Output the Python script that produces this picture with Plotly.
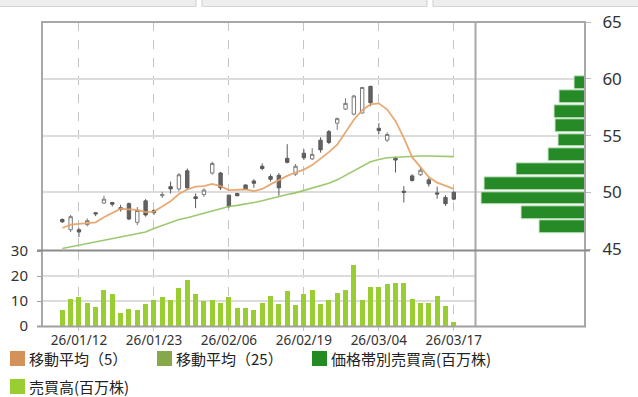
import plotly.graph_objects as go

# ---------------- data ----------------
dates = ["26/01/08", "26/01/09", "26/01/12", "26/01/13", "26/01/14", "26/01/15", "26/01/16",
         "26/01/19", "26/01/20", "26/01/21", "26/01/22", "26/01/23", "26/01/26", "26/01/27",
         "26/01/28", "26/01/29", "26/02/02", "26/02/03", "26/02/04", "26/02/05", "26/02/06",
         "26/02/09", "26/02/10", "26/02/11", "26/02/12", "26/02/13", "26/02/16", "26/02/17",
         "26/02/18", "26/02/19", "26/02/20", "26/02/23", "26/02/24", "26/02/25", "26/02/26",
         "26/02/27", "26/03/02", "26/03/03", "26/03/04", "26/03/05", "26/03/06", "26/03/09",
         "26/03/10", "26/03/11", "26/03/12", "26/03/13", "26/03/16", "26/03/17"]

open_ = [47.6, 46.7, 46.7, 47.15, 48.2, 49.05, 49.1, 48.65, 49.0, 47.35, 49.25, 48.4,
         49.7, 50.5, 50.3, 51.9, 49.6, 49.8, 51.7, 51.7, 49.75, 49.9, 50.65, 51.0,
         52.3, 51.4, 51.5, 53.0, 51.6, 53.45, 52.95, 54.6, 55.35, 56.1, 57.35, 56.9,
         57.0, 59.35, 55.65, 54.6, 53.0, 50.1, 51.45, 51.55, 51.1, 49.95, 49.55, 50.0]
high = [47.7, 48.0, 46.85, 47.7, 48.25, 49.7, 49.15, 48.9, 49.1, 48.7, 49.4, 48.5,
        50.05, 50.95, 51.7, 52.1, 49.9, 50.35, 52.7, 51.8, 49.8, 49.95, 50.7, 51.15,
        52.55, 51.6, 51.7, 54.25, 52.5, 53.8, 53.9, 54.85, 55.5, 56.6, 58.3, 58.6,
        59.3, 59.4, 56.1, 55.3, 53.15, 50.55, 51.6, 52.2, 51.3, 50.5, 49.75, 50.1]
low = [47.3, 46.5, 46.05, 47.0, 47.9, 49.0, 48.75, 48.3, 47.55, 47.1, 47.85, 48.0,
       49.5, 49.9, 50.1, 50.2, 48.6, 49.6, 51.55, 50.2, 48.6, 49.65, 50.2, 50.4,
       51.95, 50.95, 49.7, 52.55, 51.45, 52.85, 52.85, 53.5, 54.25, 55.5, 57.25, 56.8,
       56.95, 57.6, 55.15, 54.45, 51.75, 49.1, 50.95, 51.45, 50.5, 49.45, 48.8, 49.3]
close = [47.4, 47.85, 46.5, 47.5, 48.1, 49.4, 48.95, 48.5, 47.65, 48.4, 48.0, 48.2,
         49.8, 50.3, 51.55, 50.4, 49.45, 50.2, 52.55, 50.4, 48.75, 49.7, 50.25, 50.8,
         52.1, 51.15, 50.4, 52.65, 52.3, 53.05, 53.35, 53.75, 54.4, 56.5, 57.85, 58.5,
         59.25, 57.9, 55.45, 55.1, 52.85, 50.0, 51.05, 51.95, 50.75, 49.85, 49.0, 49.4]

ma5 = [46.85, 47.15, 47.22, 47.27, 47.35, 47.8, 48.15, 48.55, 48.5, 48.45, 48.25, 48.3,
       48.75, 49.2, 49.85, 50.25, 50.5, 50.55, 50.75, 50.55, 50.2, 50.2, 50.25, 50.1,
       50.3, 50.7, 51.1, 51.45, 51.75, 52.0, 52.4, 52.95, 53.55, 54.2, 55.3, 56.4,
       57.25, 57.75, 57.85, 57.3, 56.3, 54.8, 53.1, 52.2, 51.35, 50.85, 50.6, 50.3]
ma25 = [45.05, 45.2, 45.33, 45.45, 45.6, 45.8, 45.95, 46.1, 46.22, 46.35, 46.5, 46.8,
        47.05, 47.35, 47.6, 47.75, 47.95, 48.15, 48.4, 48.6, 48.75, 48.85, 48.95, 49.1,
        49.25, 49.45, 49.6, 49.8, 49.95, 50.15, 50.35, 50.55, 50.8, 51.1, 51.5, 51.95,
        52.35, 52.7, 52.9, 53.05, 53.1, 53.15, 53.2, 53.2, 53.2, 53.2, 53.2, 53.15]

volume = [6.3, 10.8, 11.5, 9.2, 7.5, 14.4, 12.7, 5.1, 6.8, 6.3, 8.7, 10.4,
          11.5, 10.3, 15.1, 18.5, 12.7, 9.9, 10.3, 9.2, 11.5, 7.3, 7.3, 6.3,
          9.2, 12.1, 8.7, 13.9, 8.5, 12.7, 14.4, 8.7, 10.4, 13.3, 14.4, 24.4,
          10.4, 15.5, 15.5, 16.8, 17.3, 17.3, 10.9, 9.2, 9.2, 12.1, 8.0, 1.6]

profile_price = [46.94, 48.21, 49.48, 50.76, 52.03, 53.30, 54.58, 55.85, 57.12, 58.40, 59.67]
profile_volume = [45.7, 63.3, 104.3, 101.3, 69.3, 37.0, 26.7, 29.7, 31.0, 25.3, 10.7]

date_ticks = ["26/01/12", "26/01/23", "26/02/06", "26/02/19", "26/03/04", "26/03/17"]
price_ticks = [45, 50, 55, 60, 65]
volume_ticks = [0, 10, 20, 30]

legend_labels = ["移動平均（5）", "移動平均（25）", "価格帯別売買高(百万株)", "売買高(百万株)"]
legend_colors = ["#D4915A", "#86A84A", "#228B22", "#9ACD32"]

# ---------------- geometry helpers ----------------
W, H = 638, 397


def px(x):
    return x / W


def py(y):
    return 1 - y / H


FONT = "Noto Sans CJK JP"
NUMFONT = "Noto Sans"

fig = go.Figure()

fig.add_trace(go.Candlestick(
    x=dates, open=open_, high=high, low=low, close=close,
    xaxis="x", yaxis="y", whiskerwidth=0,
    increasing=dict(line=dict(color="#7a7a7a", width=1), fillcolor="#ffffff"),
    decreasing=dict(line=dict(color="#5a5a5a", width=1), fillcolor="#626262"),
    showlegend=False, hoverinfo="skip"))

fig.add_trace(go.Scatter(x=dates, y=ma25, mode="lines", xaxis="x", yaxis="y",
                         line=dict(color="rgba(145,195,95,0.9)", width=1.6),
                         showlegend=False, hoverinfo="skip"))
fig.add_trace(go.Scatter(x=dates, y=ma5, mode="lines", xaxis="x", yaxis="y",
                         line=dict(color="rgba(230,160,100,0.9)", width=1.8),
                         showlegend=False, hoverinfo="skip"))

fig.add_trace(go.Bar(x=profile_volume, y=profile_price, orientation="h",
                     xaxis="x2", yaxis="y", width=1.12,
                     marker=dict(color="#268B26", line=dict(color="#cfe8cf", width=1)),
                     showlegend=False, hoverinfo="skip"))

fig.add_trace(go.Bar(x=dates, y=volume, xaxis="x3", yaxis="y3", width=0.6,
                     marker=dict(color="#9ACD32", line=dict(width=0)),
                     showlegend=False, hoverinfo="skip"))

x_lo = (42 - 62.3) / 8.33
x_hi = (475.5 - 62.3) / 8.33

grid_v = dict(showgrid=True, gridcolor="#c4c4c4", griddash="dash", gridwidth=1)

shapes = []


def hline(y, x0, x1, color, width):
    shapes.append(dict(type="line", xref="paper", yref="paper", x0=px(x0), x1=px(x1),
                       y0=py(y), y1=py(y), line=dict(color=color, width=width)))


def vline(x, y0, y1, color, width):
    shapes.append(dict(type="line", xref="paper", yref="paper", x0=px(x), x1=px(x),
                       y0=py(y0), y1=py(y1), line=dict(color=color, width=width)))


# header strip
shapes.append(dict(type="rect", xref="paper", yref="paper", x0=0, x1=1, y0=py(6.5), y1=1,
                   fillcolor="#eeeeee", line=dict(width=0), layer="below"))
hline(6.5, 0, 638, "#d6d6d6", 1)
for sx in (196, 427):
    shapes.append(dict(type="rect", xref="paper", yref="paper", x0=px(sx), x1=px(sx + 6),
                       y0=py(7), y1=1, fillcolor="#ffffff", line=dict(width=0)))
    vline(sx, 0, 6.5, "#cfcfcf", 1)
    vline(sx + 6, 0, 6.5, "#cfcfcf", 1)

# frame
vline(42, 22, 327, "#a8a8a8", 2)
hline(22, 41, 586, "#a8a8a8", 2)
vline(585, 22, 327, "#a8a8a8", 2)
vline(475.5, 22, 327, "#a8a8a8", 2)
hline(326.5, 37, 586, "#a0a0a0", 2)
hline(250.5, 37, 590, "#8c8c8c", 2)

# legend
legend_pos = [(10, 358.5), (157, 358.5), (312, 358.5), (10, 386.5)]
annotations = []
for (lx, ly), lab, col in zip(legend_pos, legend_labels, legend_colors):
    shapes.append(dict(type="rect", xref="paper", yref="paper", x0=px(lx), x1=px(lx + 15),
                       y0=py(ly + 7.5), y1=py(ly - 7.5), fillcolor=col, line=dict(width=0)))
    annotations.append(dict(xref="paper", yref="paper", x=px(lx + 17), y=py(ly),
                            xanchor="left", yanchor="middle", showarrow=False, text=lab,
                            font=dict(family=FONT, size=15, color="#222222")))

fig.update_layout(
    width=W, height=H, autosize=False,
    margin=dict(l=0, r=0, t=0, b=0, autoexpand=False),
    paper_bgcolor="#ffffff", plot_bgcolor="#ffffff",
    boxgap=0.42, bargap=0, showlegend=False,
    font=dict(family=FONT, color="#333333"),
    xaxis=dict(domain=[px(42), px(475.5)], anchor="y", type="category", automargin=False,
               range=[x_lo, x_hi], tickvals=date_ticks, showticklabels=False,
               ticks="", zeroline=False, showline=False,
               rangeslider=dict(visible=False), **grid_v),
    yaxis=dict(domain=[py(249), py(22.3)], range=[45, 65], anchor="x2", side="right",
               automargin=False,
               tickvals=price_ticks, showgrid=True, gridcolor="#dcdcdc", gridwidth=1.5,
               ticks="outside", ticklen=5, tickcolor="#bbbbbb", ticklabelstandoff=8,
               tickfont=dict(size=17, color="#333333", family=NUMFONT),
               zeroline=False, showline=False),
    xaxis2=dict(domain=[px(475.5), px(585)], anchor="y", range=[110, 0], automargin=False,
                showgrid=False, showticklabels=False, ticks="", zeroline=False,
                showline=False),
    xaxis3=dict(domain=[px(42), px(475.5)], anchor="y3", type="category", automargin=False,
                range=[x_lo, x_hi], tickvals=date_ticks, ticks="outside", ticklen=4,
                ticklabelstandoff=-2,
                tickcolor="#c4c4c4", tickfont=dict(size=13.5, color="#333333", family=NUMFONT),
                zeroline=False, showline=False, **grid_v),
    yaxis3=dict(domain=[py(326), py(251)], range=[0, 30], anchor="x3", side="left",
                automargin=False,
                tickvals=volume_ticks, showgrid=True, gridcolor="#dcdcdc", gridwidth=1.5,
                ticks="outside", ticklen=4, tickcolor="#a0a0a0", ticklabelstandoff=6,
                tickfont=dict(size=15, color="#333333", family=NUMFONT),
                zeroline=False, showline=False),
    shapes=shapes,
    annotations=annotations,
)

fig.write_html("out.html", config={"displayModeBar": False},
               post_script="document.body.style.margin='0';document.body.style.overflow='hidden';")
